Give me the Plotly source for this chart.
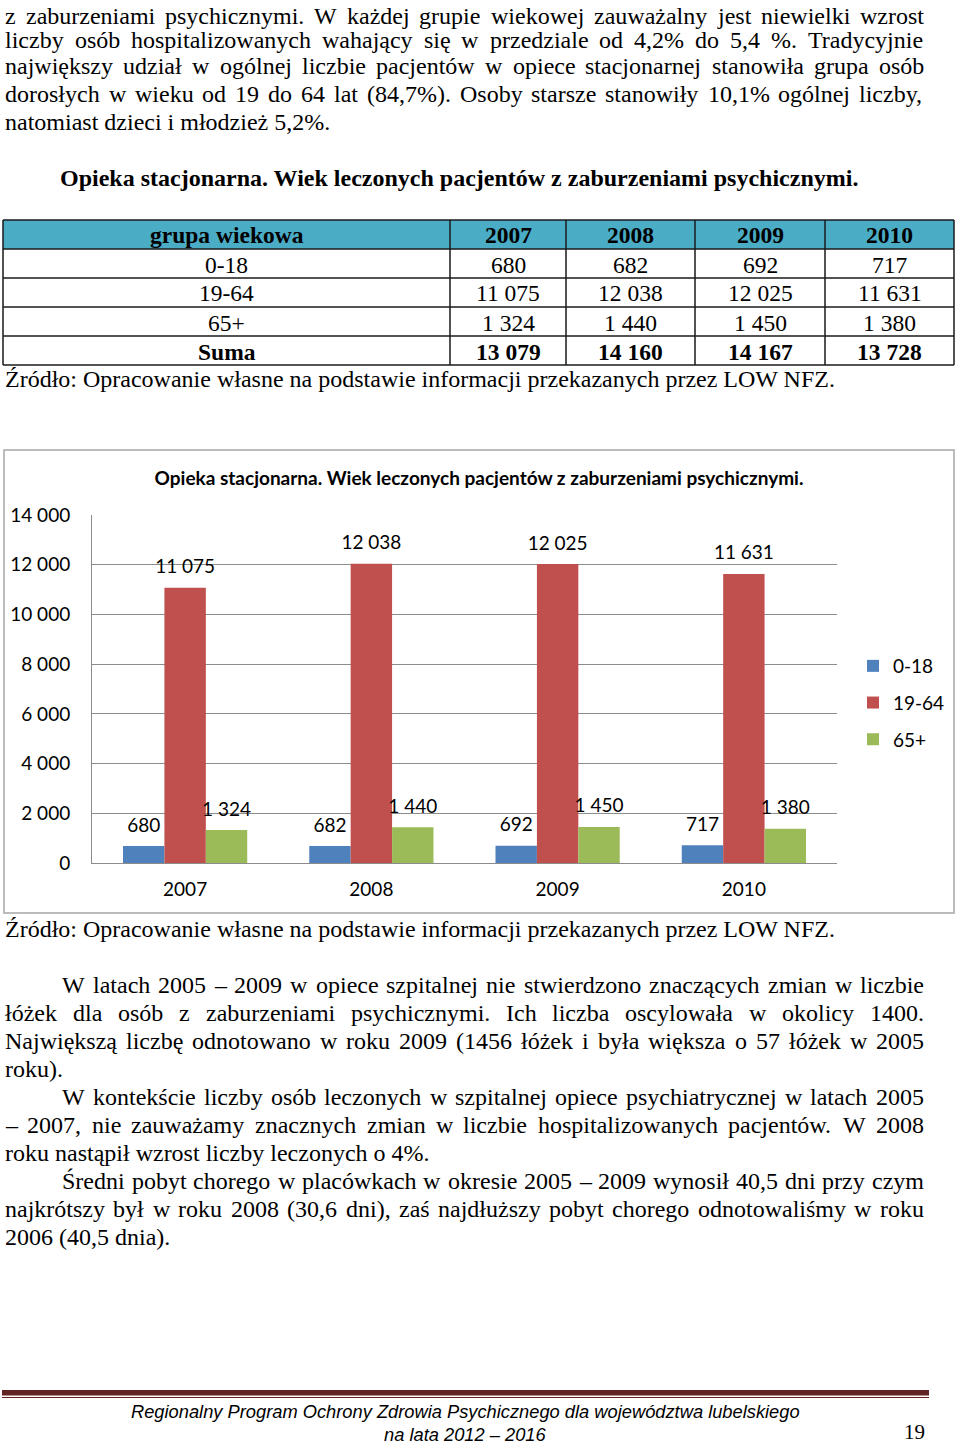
import plotly.graph_objects as go

# ---------------- data ----------------
years = ["2007", "2008", "2009", "2010"]
groups = ["0-18", "19-64", "65+"]
vals_0_18 = [680, 682, 692, 717]
vals_19_64 = [11075, 12038, 12025, 11631]
vals_65 = [1324, 1440, 1450, 1380]
colors = ["#4F81BD", "#C0504D", "#9BBB59"]
y_ticks = [0, 2000, 4000, 6000, 8000, 10000, 12000, 14000]

chart_title = "Opieka stacjonarna. Wiek leczonych pacjentów z zaburzeniami psychicznymi."
source_text = "Źródło: Opracowanie własne na podstawie informacji przekazanych przez LOW NFZ."

para_top = [
    ("z zaburzeniami psychicznymi. W każdej grupie wiekowej zauważalny jest niewielki wzrost", True, False),
    ("liczby osób hospitalizowanych wahający się w przedziale od 4,2% do 5,4 %. Tradycyjnie", True, False),
    ("największy udział w ogólnej liczbie pacjentów w opiece stacjonarnej stanowiła grupa osób", True, False),
    ("dorosłych w wieku od 19 do 64 lat (84,7%). Osoby starsze stanowiły 10,1% ogólnej liczby,", True, False),
    ("natomiast dzieci i młodzież 5,2%.", False, False),
]
para_bottom = [
    ("W latach 2005 – 2009 w opiece szpitalnej nie stwierdzono znaczących zmian w liczbie", True, True),
    ("łóżek dla osób z zaburzeniami psychicznymi. Ich liczba oscylowała w okolicy 1400.", True, False),
    ("Największą liczbę odnotowano w roku 2009 (1456 łóżek i była większa o 57 łóżek w 2005", True, False),
    ("roku).", False, False),
    ("W kontekście liczby osób leczonych w szpitalnej opiece psychiatrycznej w latach 2005", True, True),
    ("– 2007, nie zauważamy znacznych zmian w liczbie hospitalizowanych pacjentów. W 2008", True, False),
    ("roku nastąpił wzrost liczby leczonych o 4%.", False, False),
    ("Średni pobyt chorego w placówkach w okresie 2005 – 2009 wynosił 40,5 dni przy czym", True, True),
    ("najkrótszy był w roku 2008 (30,6 dni), zaś najdłuższy pobyt chorego odnotowaliśmy w roku", True, False),
    ("2006 (40,5 dnia).", False, False),
]
footer_line1 = "Regionalny Program Ochrony Zdrowia Psychicznego dla województwa lubelskiego"
footer_line2 = "na lata 2012 – 2016"
page_number = "19"

# ---------------- helpers ----------------
W, H = 960, 1446
SERIF = "Liberation Serif, Times New Roman, serif"
SANS = "Lato, Open Sans, sans-serif"
ARIAL = "Liberation Sans, Arial, sans-serif"


def X(x):
    return x / W


def Y(y):
    return 1 - y / H


TIMES = {" ": 250, "%": 833, "(": 333, ")": 333, "+": 564, ",": 250, "-": 333, ".": 250,
         ":": 278, "–": 500,
         "A": 722, "B": 667, "C": 667, "D": 722, "E": 611, "F": 556, "G": 722, "H": 722,
         "I": 333, "J": 389, "K": 722, "L": 611, "M": 889, "N": 722, "O": 722, "P": 556,
         "Q": 722, "R": 667, "S": 556, "T": 611, "U": 722, "V": 722, "W": 944, "X": 722,
         "Y": 722, "Z": 611, "Ś": 556, "Ź": 611,
         "a": 444, "b": 500, "c": 444, "d": 500, "e": 444, "f": 333, "g": 500, "h": 500,
         "i": 278, "j": 278, "k": 500, "l": 278, "m": 778, "n": 500, "o": 500, "p": 500,
         "q": 500, "r": 333, "s": 389, "t": 278, "u": 500, "v": 500, "w": 722, "x": 500,
         "y": 500, "z": 444, "ą": 444, "ę": 444, "ó": 500, "ł": 278, "ż": 444, "ź": 444,
         "ś": 389, "ć": 444, "ń": 500}
for d in "0123456789":
    TIMES[d] = 500


def tw(s, fs):
    return sum(TIMES.get(c, 500) for c in s) / 1000.0 * fs


annotations = []
shapes = []


def text(x, y, s, size, family=SERIF, anchor="left", color="black"):
    annotations.append(dict(x=X(x), y=Y(y), xref="paper", yref="paper", text=s,
                            showarrow=False, xanchor=anchor, yanchor="middle",
                            borderpad=0, borderwidth=0,
                            font=dict(size=size, family=family, color=color)))


BODY_FS = 24
LEFT, RIGHT, INDENT = 5, 924, 62


def body_line(s, y, justify, indent):
    x0 = INDENT if indent else LEFT
    words = s.split(" ")
    if not justify or len(words) < 2:
        text(x0, y, s, BODY_FS)
        return
    widths = [tw(w, BODY_FS) for w in words]
    gap = (RIGHT - x0 - sum(widths)) / (len(words) - 1)
    if gap < tw(" ", BODY_FS) * 0.6:
        text(x0, y, s, BODY_FS)
        return
    x = x0
    for w, wd in zip(words, widths):
        text(x, y, w, BODY_FS)
        x += wd + gap


top_line_y = [16, 39.5, 66, 94, 122]
for (s, j, ind), yy in zip(para_top, top_line_y):
    body_line(s, yy, j, ind)
LH = 28
for i, (s, j, ind) in enumerate(para_bottom):
    body_line(s, 985 + i * LH, j, ind)

# heading above table
text(60, 178, "<b>" + chart_title + "</b>", 24)

# ---------------- table ----------------
col_x = [3, 450, 566, 695, 825, 954]
row_y = [220, 249, 278, 307, 336, 365]
shapes.append(dict(type="rect", xref="paper", yref="paper", x0=X(col_x[0]), x1=X(col_x[-1]),
                   y0=Y(row_y[0]), y1=Y(row_y[1]), fillcolor="#4BACC6", line=dict(width=0),
                   layer="below"))
for yy in row_y:
    shapes.append(dict(type="line", xref="paper", yref="paper", x0=X(col_x[0]), x1=X(col_x[-1]),
                       y0=Y(yy), y1=Y(yy), line=dict(color="#1a1a1a", width=1.5)))
for xx in col_x:
    shapes.append(dict(type="line", xref="paper", yref="paper", x0=X(xx), x1=X(xx),
                       y0=Y(row_y[0]), y1=Y(row_y[-1]), line=dict(color="#1a1a1a", width=1.5)))


def fmt(v):
    return f"{v:,}".replace(",", " ")


series = [vals_0_18, vals_19_64, vals_65]
sums = [sum(t) for t in zip(*series)]
header = ["grupa wiekowa"] + years
rows = [[g] + [fmt(v) for v in vals] for g, vals in zip(groups, series)]
rows.append(["Suma"] + [fmt(v) for v in sums])

TABLE_FS = 23.5
for r, cells in enumerate([header] + rows):
    yc = (row_y[r] + row_y[r + 1]) / 2 + 1
    bold = r == 0 or r == len(rows)
    for c, cell in enumerate(cells):
        xc = (col_x[c] + col_x[c + 1]) / 2
        s = "<b>" + cell + "</b>" if bold else cell
        text(xc, yc, s, TABLE_FS, anchor="center")

text(LEFT, 379, source_text, BODY_FS)
text(LEFT, 929, source_text, BODY_FS)

# ---------------- chart box ----------------
shapes.append(dict(type="rect", xref="paper", yref="paper", x0=X(4), x1=X(954),
                   y0=Y(450), y1=Y(913), line=dict(color="#A6A6A6", width=1.5),
                   fillcolor="rgba(0,0,0,0)", layer="below"))

# ---------------- footer ----------------
shapes.append(dict(type="rect", xref="paper", yref="paper", x0=X(2), x1=X(929),
                   y0=Y(1390), y1=Y(1395.5), fillcolor="#622423", line=dict(width=0)))
shapes.append(dict(type="line", xref="paper", yref="paper", x0=X(2), x1=X(929),
                   y0=Y(1397.5), y1=Y(1397.5), line=dict(color="#622423", width=1.2)))
text(465, 1411, "<i>" + footer_line1 + "</i>", 18.3, family=ARIAL, anchor="center")
text(465, 1434, "<i>" + footer_line2 + "</i>", 18.3, family=ARIAL, anchor="center")
text(925, 1432, page_number, 21, anchor="right")

# ---------------- bars ----------------
fig = go.Figure()
for i, (name, vals, col) in enumerate(zip(groups, series, colors)):
    fig.add_trace(go.Bar(x=years, y=vals, name=name, marker=dict(color=col, line=dict(width=0)),
                         offsetgroup=str(i), alignmentgroup="a",
                         legendgroup=name, hoverinfo="x+y+name"))
# value labels (aligned with the bars through grouped scatter positioning)
for i, (name, vals) in enumerate(zip(groups, series)):
    fig.add_trace(go.Scatter(x=years, y=vals, mode="markers+text", text=[fmt(v) for v in vals],
                             textposition="top center", cliponaxis=False,
                             marker=dict(size=14, opacity=0, color="white"),
                             textfont=dict(size=19, family=SANS, color="black"),
                             offsetgroup=str(i), alignmentgroup="a",
                             showlegend=False, hoverinfo="skip", legendgroup=name))

GRID = "#8C8C8C"
fig.update_layout(
    width=W, height=H, margin=dict(l=0, r=0, t=0, b=0, pad=0, autoexpand=False),
    paper_bgcolor="white", plot_bgcolor="white",
    separators=", ",
    barmode="group", bargap=0.333, bargroupgap=0,
    scattermode="group", scattergap=0.333,
    title=dict(text="<b>" + chart_title + "</b>", x=X(479), y=Y(478), xanchor="center",
               yanchor="middle", xref="paper", yref="paper", automargin=False,
               font=dict(size=19, family=SANS, color="black")),
    xaxis=dict(domain=[X(92), X(837)], showline=True, linecolor=GRID, linewidth=1,
               ticks="", tickfont=dict(size=19, family=SANS, color="black"),
               ticklabelstandoff=9, showgrid=False, automargin=False),
    yaxis=dict(domain=[Y(863), Y(515)], range=[0, 14000], tickvals=y_ticks,
               tickformat=",d", showgrid=True, gridcolor=GRID, gridwidth=1,
               showline=True, linecolor=GRID, linewidth=1, ticks="", zeroline=False,
               tickfont=dict(size=19, family=SANS, color="black"), ticklabelstandoff=17,
               automargin=False),
    legend=dict(x=X(853), y=Y(647), xanchor="left", yanchor="top",
                font=dict(size=19, family=SANS, color="black"),
                traceorder="grouped", tracegroupgap=9, itemwidth=30,
                bgcolor="rgba(0,0,0,0)"),
    showlegend=True,
    annotations=annotations,
    shapes=shapes,
)

fig.write_html(
    "out.html",
    config={"displayModeBar": False},
    post_script=(
        "document.documentElement.style.margin='0px';"
        "document.body.style.margin='0px';document.body.style.padding='0px';"
        "document.body.style.overflow='hidden';"
    ),
)
